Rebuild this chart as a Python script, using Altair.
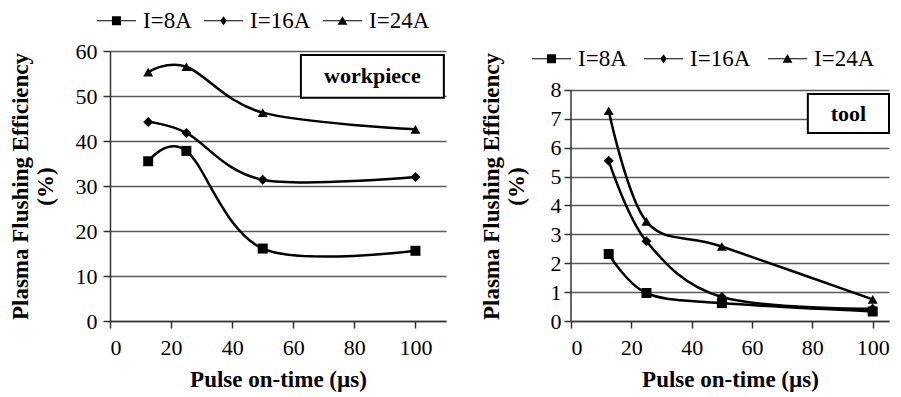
import altair as alt
import pandas as pd

# ---------------- data ----------------
x_vals = [12.5, 25, 50, 100]
series = ["I=8A", "I=16A", "I=24A"]

wp_8 = [35.5, 37.8, 16.1, 15.6]
wp_16 = [44.2, 41.8, 31.4, 32.0]
wp_24 = [55.3, 56.5, 46.3, 42.6]

tool_8 = [2.32, 0.97, 0.62, 0.33]
tool_16 = [5.55, 2.76, 0.83, 0.42]
tool_24 = [7.28, 3.45, 2.58, 0.75]

x_ticks = [0, 20, 40, 60, 80, 100]
wp_y_ticks = [0, 10, 20, 30, 40, 50, 60]
tool_y_ticks = [0, 1, 2, 3, 4, 5, 6, 7, 8]

wp_label = "workpiece"
tool_label = "tool"

x_title = "Pulse on-time (µs)"
y_title = ["Plasma Flushing Efficiency", "(%)"]

# ---------------- styles ----------------
FONT = "Liberation Serif"
marker_shapes = ["square", "diamond", "triangle-up"]
legend_paths = [
    "M-3,-0.09H3V0.09H-3Z M-0.7,-0.7H0.7V0.7H-0.7Z",
    "M-3,-0.09H3V0.09H-3Z M0,-0.7L0.5,0L0,0.7L-0.5,0Z",
    "M-3,-0.09H3V0.09H-3Z M0,-0.75L0.75,0.6H-0.75Z",
]


def long_df(vals_list):
    rows = []
    for s, vals in zip(series, vals_list):
        for xv, yv in zip(x_vals, vals):
            rows.append({"x": xv, "y": yv, "series": s})
    return pd.DataFrame(rows)


def panel(df, x_domain, y_domain, y_ticks, width, height, box, label,
          legend_x, legend_y, col_pad, label_pad, title_pad, draw_axis_rule=False,
          y_top_tick=None):
    x_scale = alt.Scale(domain=x_domain, nice=False, zero=False)
    y_scale = alt.Scale(domain=y_domain, nice=False, zero=False)
    x_axis = alt.Axis(values=x_ticks, grid=False, title=x_title,
                      labelPadding=9, titlePadding=10, labelOverlap=False)
    y_axis = alt.Axis(values=y_ticks, grid=True, title=y_title,
                      labelPadding=label_pad, titlePadding=title_pad,
                      titleLineHeight=25, domain=not draw_axis_rule,
                      labelOverlap=False)

    def X(field="x"):
        return alt.X(f"{field}:Q", scale=x_scale, axis=x_axis)

    def Y(field="y"):
        return alt.Y(f"{field}:Q", scale=y_scale, axis=y_axis)

    base = alt.Chart(df)
    lines = base.mark_line(interpolate="cardinal", color="black",
                           strokeWidth=2.5).encode(x=X(), y=Y(), detail="series:N")
    points = base.mark_point(filled=True, color="black", opacity=1, size=100,
                             strokeWidth=0).encode(
        x=X(), y=Y(),
        shape=alt.Shape("series:N", scale=alt.Scale(domain=series, range=marker_shapes),
                        legend=None))
    legend_layer = base.transform_filter("datum.x < 0").mark_point(
        filled=True, color="black", opacity=1, size=169, strokeWidth=0
    ).encode(
        x=X(), y=Y(),
        shape=alt.Shape("series:N",
                        scale=alt.Scale(domain=series, range=legend_paths),
                        legend=alt.Legend(title=None, orient="none",
                                          legendX=legend_x, legendY=legend_y,
                                          direction="horizontal", columns=3,
                                          labelFont=FONT, labelFontSize=23,
                                          labelColor="black", labelOffset=15,
                                          columnPadding=col_pad, symbolSize=169,
                                          symbolFillColor="black",
                                          symbolStrokeWidth=0, symbolOpacity=1,
                                          padding=0, labelLimit=0))
    )
    box_df = pd.DataFrame({"x": [box[0]], "x2": [box[1]], "y": [box[2]], "y2": [box[3]]})
    rect = alt.Chart(box_df).mark_rect(fill="white", stroke="black", strokeWidth=2).encode(
        x=X(), x2="x2:Q", y=Y(), y2="y2:Q")
    txt_df = pd.DataFrame({"x": [(box[0] + box[1]) / 2], "y": [(box[2] + box[3]) / 2],
                           "label": [label]})
    txt = alt.Chart(txt_df).mark_text(font=FONT, fontSize=22, fontWeight="bold",
                                      color="black", baseline="middle").encode(
        x=X(), y=Y(), text="label:N")
    layers = [lines, points, legend_layer, rect, txt]
    if draw_axis_rule:
        rule_df = pd.DataFrame({"x": [0], "y": [0], "y2": [y_top_tick]})
        rule = alt.Chart(rule_df).mark_rule(color="#333", strokeWidth=1.5).encode(
            x=X(), y=Y(), y2="y2:Q")
        layers.append(rule)
    return alt.layer(*layers).resolve_scale(shape="independent").properties(
        width=width, height=height)


left = panel(long_df([wp_8, wp_16, wp_24]), [0, 110], [0, 60], wp_y_ticks,
             336, 270, [62.5, 109.3, 59.1, 49.6], wp_label,
             legend_x=-5, legend_y=-42, col_pad=12, label_pad=6, title_pad=18)
right = panel(long_df([tool_8, tool_16, tool_24]), [0, 105.4], [0, 9.35], tool_y_ticks,
              318, 270, [78.5, 105.4, 7.86, 6.51], tool_label,
              legend_x=-31, legend_y=-4, col_pad=17, label_pad=3, title_pad=22,
              draw_axis_rule=True, y_top_tick=8)

chart = alt.hconcat(left, right, spacing=32).resolve_scale(
    x="independent", y="independent", shape="independent"
).resolve_legend(shape="independent").properties(
    padding={"left": 0, "top": 0, "right": 0, "bottom": 0},
    background="white",
).configure_axis(
    labelFont=FONT, labelFontSize=22, labelColor="black",
    titleFont=FONT, titleFontSize=23, titleFontWeight="bold", titleColor="black",
    gridColor="#5a5a5a", gridWidth=1.5,
    domainColor="#333333", domainWidth=1.5,
    tickColor="#333333", tickWidth=1.5, tickSize=7,
).configure_view(stroke="transparent")

chart.save("out.html", embed_options={"renderer": "svg", "actions": False})
